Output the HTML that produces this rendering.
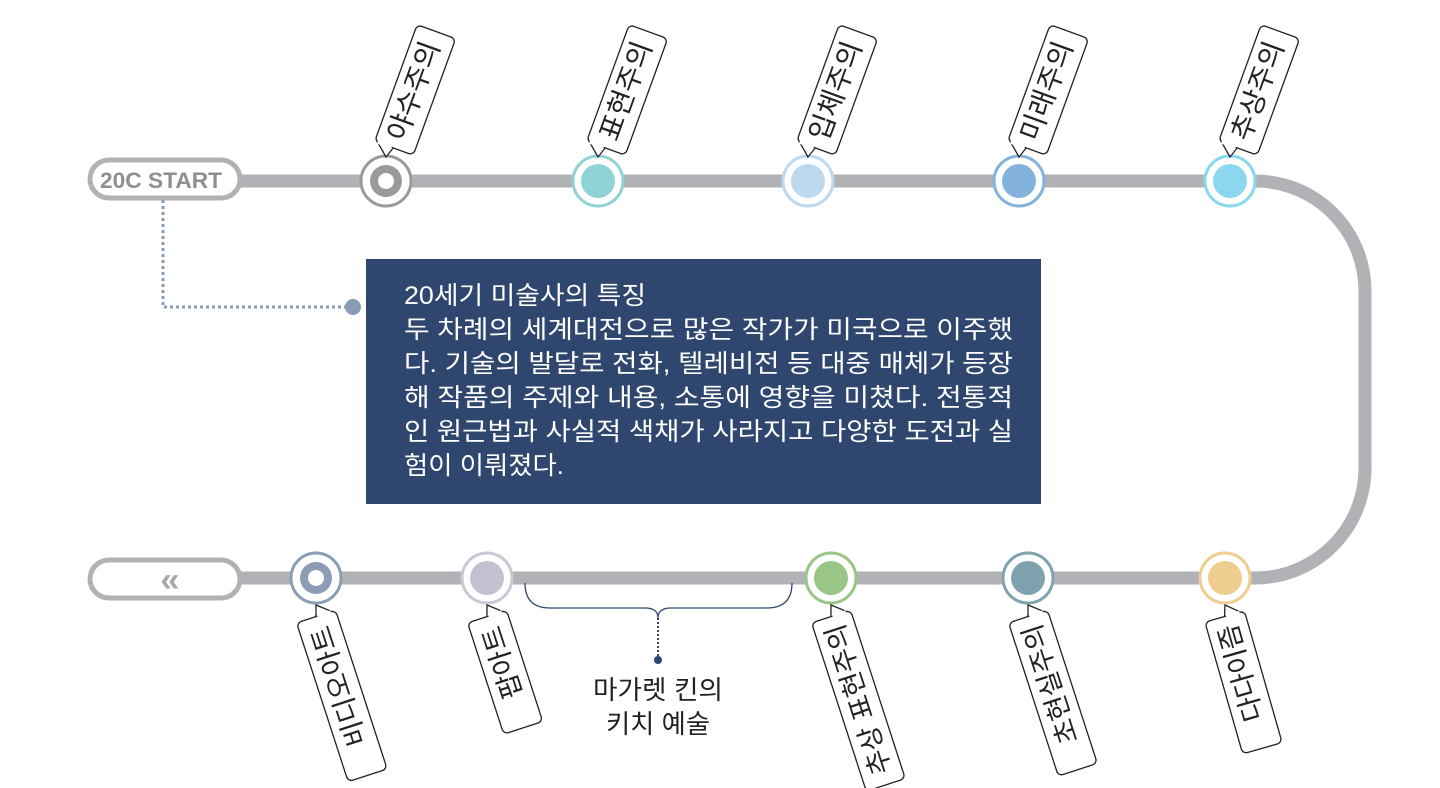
<!DOCTYPE html>
<html><head><meta charset="utf-8"><style>
html,body{margin:0;padding:0;background:#fff;width:1440px;height:788px;overflow:hidden}
svg{display:block}
text{font-family:"Liberation Sans","Noto Sans CJK KR",sans-serif}
</style></head><body>
<svg width="1440" height="788" viewBox="0 0 1440 788" xmlns="http://www.w3.org/2000/svg">
<path d="M240 181 H1255 A110 110 0 0 1 1365 291 V468 A110 110 0 0 1 1255 578 H240" fill="none" stroke="#b1b2b5" stroke-width="13"/>
<rect x="90" y="160" width="150" height="38" rx="19" fill="#fff" stroke="#b1b2b5" stroke-width="5"/>
<text x="100" y="188" font-size="22" font-weight="bold" fill="#8e8f93" textLength="122" lengthAdjust="spacingAndGlyphs">20C START</text>
<rect x="90" y="560" width="150" height="38" rx="19" fill="#fff" stroke="#b1b2b5" stroke-width="5"/>
<text x="170" y="591" font-size="34" fill="#a7a8ab" text-anchor="middle" font-weight="bold">«</text>
<path d="M163 200 V307 H350" fill="none" stroke="#8a9bb5" stroke-width="3" stroke-dasharray="3 3"/>
<circle cx="353" cy="307" r="8" fill="#8a9bb5"/>
<rect x="366" y="259" width="675" height="245" fill="#2f476e"/>
<g font-size="25" fill="#fff">
<text x="404" y="304" textLength="242" lengthAdjust="spacingAndGlyphs">20세기 미술사의 특징</text>
<text x="404" y="338" textLength="609" lengthAdjust="spacingAndGlyphs">두 차례의 세계대전으로 많은 작가가 미국으로 이주했</text>
<text x="404" y="372" textLength="609" lengthAdjust="spacingAndGlyphs">다. 기술의 발달로 전화, 텔레비전 등 대중 매체가 등장</text>
<text x="404" y="406" textLength="609" lengthAdjust="spacingAndGlyphs">해 작품의 주제와 내용, 소통에 영향을 미쳤다. 전통적</text>
<text x="404" y="440" textLength="609" lengthAdjust="spacingAndGlyphs">인 원근법과 사실적 색채가 사라지고 다양한 도전과 실</text>
<text x="404" y="474" textLength="160" lengthAdjust="spacingAndGlyphs">험이 이뤄졌다.</text>
</g>
<path d="M525 583 Q525 608 550 608 H645 Q658 608 658 618 Q658 608 671 608 H767 Q792 608 792 583" fill="none" stroke="#2f476e" stroke-width="1.3"/>
<path d="M658 618 V658" stroke="#2f476e" stroke-width="2" stroke-dasharray="2 2"/>
<circle cx="658" cy="660" r="4" fill="#2f476e"/>
<text x="658" y="699" font-size="26" fill="#222" text-anchor="middle" textLength="130" lengthAdjust="spacingAndGlyphs">마가렛 킨의</text>
<text x="658" y="733" font-size="26" fill="#222" text-anchor="middle" textLength="104" lengthAdjust="spacingAndGlyphs">키치 예술</text>
<g stroke-width="3">
<circle cx="386" cy="181" r="25" fill="#fff" stroke="#9a9a9c"/><circle cx="386" cy="181" r="16" fill="#9a9a9c" stroke="none"/><circle cx="386" cy="181" r="8" fill="#fff" stroke="none"/>
<circle cx="598" cy="181" r="25" fill="#fff" stroke="#8fd3d4"/><circle cx="598" cy="181" r="17" fill="#8fd3d4" stroke="none"/>
<circle cx="808" cy="181" r="25" fill="#fff" stroke="#bcd9ef"/><circle cx="808" cy="181" r="17" fill="#bcd9ef" stroke="none"/>
<circle cx="1019" cy="181" r="25" fill="#fff" stroke="#83b3dc"/><circle cx="1019" cy="181" r="17" fill="#83b3dc" stroke="none"/>
<circle cx="1230" cy="181" r="25" fill="#fff" stroke="#8ad7ee"/><circle cx="1230" cy="181" r="17" fill="#8ad7ee" stroke="none"/>
<circle cx="316" cy="578" r="25" fill="#fff" stroke="#8a9db5"/><circle cx="316" cy="578" r="16" fill="#8a9db5" stroke="none"/><circle cx="316" cy="578" r="8" fill="#fff" stroke="none"/>
<circle cx="487" cy="578" r="25" fill="#fff" stroke="#c9c8d5"/><circle cx="487" cy="578" r="17" fill="#c2c1d0" stroke="none"/>
<circle cx="831" cy="578" r="25" fill="#fff" stroke="#99c686"/><circle cx="831" cy="578" r="17" fill="#99c686" stroke="none"/>
<circle cx="1028" cy="578" r="25" fill="#fff" stroke="#7fa3ae"/><circle cx="1028" cy="578" r="17" fill="#7fa3ae" stroke="none"/>
<circle cx="1225" cy="578" r="25" fill="#fff" stroke="#eecd8f"/><circle cx="1225" cy="578" r="17" fill="#eecd8f" stroke="none"/>
</g>
<g fill="#fff" stroke="#222" stroke-width="1.3" font-size="28">
<g transform="translate(386,157) rotate(-70)"><path d="M0,0 L12,-14 L12,4 Z"/><rect x="11" y="-16" width="124" height="41" rx="5"/><path d="M11,-13 L11,2" stroke="#fff" stroke-width="3"/><text x="20" y="13" fill="#222" stroke="none">야수주의</text></g>
<g transform="translate(598,157) rotate(-70)"><path d="M0,0 L12,-14 L12,4 Z"/><rect x="11" y="-16" width="124" height="41" rx="5"/><path d="M11,-13 L11,2" stroke="#fff" stroke-width="3"/><text x="20" y="13" fill="#222" stroke="none">표현주의</text></g>
<g transform="translate(808,157) rotate(-70)"><path d="M0,0 L12,-14 L12,4 Z"/><rect x="11" y="-16" width="124" height="41" rx="5"/><path d="M11,-13 L11,2" stroke="#fff" stroke-width="3"/><text x="20" y="13" fill="#222" stroke="none">입체주의</text></g>
<g transform="translate(1019,157) rotate(-70)"><path d="M0,0 L12,-14 L12,4 Z"/><rect x="11" y="-16" width="124" height="41" rx="5"/><path d="M11,-13 L11,2" stroke="#fff" stroke-width="3"/><text x="20" y="13" fill="#222" stroke="none">미래주의</text></g>
<g transform="translate(1230,157) rotate(-70)"><path d="M0,0 L12,-14 L12,4 Z"/><rect x="11" y="-16" width="124" height="41" rx="5"/><path d="M11,-13 L11,2" stroke="#fff" stroke-width="3"/><text x="20" y="13" fill="#222" stroke="none">추상주의</text></g>
</g>
<g fill="#fff" stroke="#222" stroke-width="1.3" font-size="27">
<g transform="translate(316,605) rotate(-108)"><path d="M0,0 L-12,-4 L-12,14 Z"/><rect x="-178" y="-24" width="167" height="41" rx="5"/><path d="M-11,-2 L-11,12" stroke="#fff" stroke-width="3"/><text x="-22" y="6" fill="#222" stroke="none" text-anchor="end">비디오아트</text></g>
<g transform="translate(487,605) rotate(-108)"><path d="M0,0 L-12,-4 L-12,14 Z"/><rect x="-128" y="-24" width="117" height="41" rx="5"/><path d="M-11,-2 L-11,12" stroke="#fff" stroke-width="3"/><text x="-22" y="6" fill="#222" stroke="none" text-anchor="end">팝아트</text></g>
<g transform="translate(831,605) rotate(-108)"><path d="M0,0 L-12,-4 L-12,14 Z"/><rect x="-188" y="-24" width="177" height="41" rx="5"/><path d="M-11,-2 L-11,12" stroke="#fff" stroke-width="3"/><text x="-20" y="6" fill="#222" stroke="none" text-anchor="end">추상 표현주의</text></g>
<g transform="translate(1028,605) rotate(-108)"><path d="M0,0 L-12,-4 L-12,14 Z"/><rect x="-172" y="-24" width="161" height="41" rx="5"/><path d="M-11,-2 L-11,12" stroke="#fff" stroke-width="3"/><text x="-20" y="6" fill="#222" stroke="none" text-anchor="end">초현실주의</text></g>
<g transform="translate(1225,605) rotate(-106)"><path d="M0,0 L-12,-4 L-12,14 Z"/><rect x="-148" y="-24" width="137" height="41" rx="5"/><path d="M-11,-2 L-11,12" stroke="#fff" stroke-width="3"/><text x="-20" y="6" fill="#222" stroke="none" text-anchor="end">다다이즘</text></g>
</g>
</svg>
</body></html>
